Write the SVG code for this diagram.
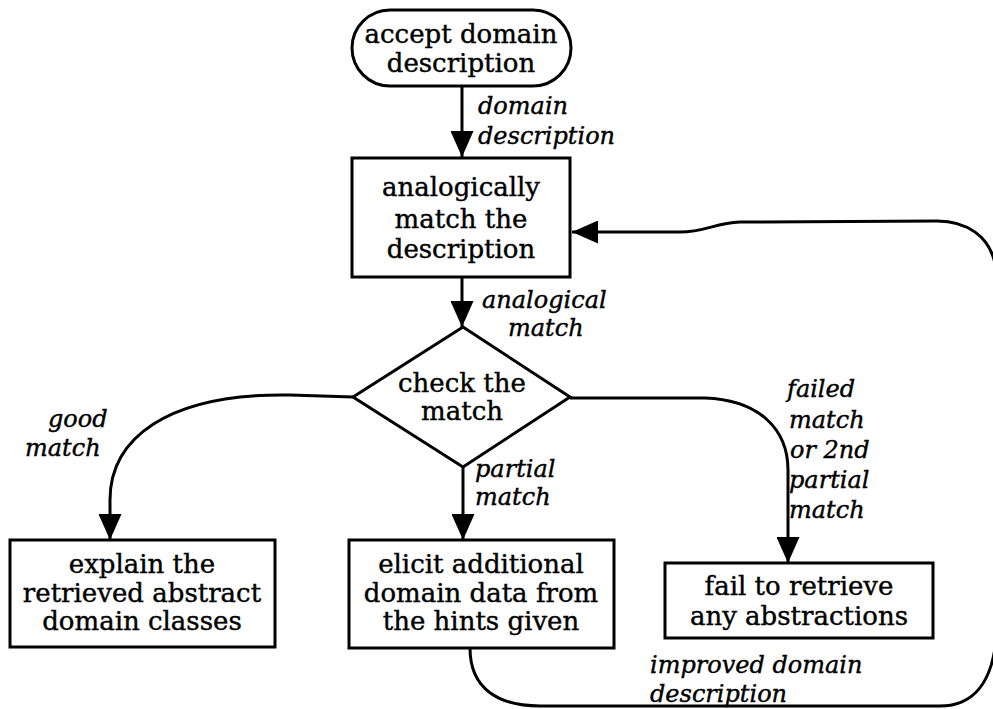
<svg xmlns="http://www.w3.org/2000/svg" width="993" height="709" viewBox="0 0 993 709">
  <defs>
    <marker id="arrow" markerUnits="userSpaceOnUse" viewBox="0 0 26 23" markerWidth="26" markerHeight="23" refX="26" refY="11.5" orient="auto">
      <path d="M0,0 L26,11.5 L0,23 z" fill="#000"/>
    </marker>
    <style>
      .shape { fill: #fff; stroke: #000; stroke-width: 3; }
      .conn { fill: none; stroke: #000; stroke-width: 3; }
      .node-text { font-family: "DejaVu Serif", "Liberation Serif", serif; font-size: 26px; fill: #000; stroke: #000; stroke-width: 0.4; text-anchor: middle; }
      .label { font-family: "DejaVu Serif", "Liberation Serif", serif; font-size: 24px; font-style: italic; fill: #000; stroke: #000; stroke-width: 0.4; }
    </style>
  </defs>
  <rect width="993" height="709" fill="#fff"/>

  <g id="connectors">
    <path class="conn" d="M462 86 L462 157" marker-end="url(#arrow)"/>
    <path class="conn" d="M462 277 L462 327" marker-end="url(#arrow)"/>
    <path class="conn" d="M353 397 L290 395 C165 393 110 440 110 500 L110 540" marker-end="url(#arrow)"/>
    <path class="conn" d="M463 467 L463 540" marker-end="url(#arrow)"/>
    <path class="conn" d="M570 398 L705 398 C760 400 788 430 788 470 L788 563" marker-end="url(#arrow)"/>
    <path class="conn" d="M470 648 C470 690 500 706 540 706 L940 706 C975 706 992 680 996 640 L996 270 C992 235 965 221 937 221 L740 222 C715 223 705 232 680 232 L572 232" marker-end="url(#arrow)"/>
  </g>

  <g id="accept">
    <rect class="shape" x="352" y="10" width="219" height="76" rx="38"/>
    <text class="node-text" x="461" y="43">accept domain</text>
    <text class="node-text" x="461" y="72">description</text>
  </g>

  <g id="analogical-match">
    <rect class="shape" x="352" y="158" width="218" height="119"/>
    <text class="node-text" x="461" y="196">analogically</text>
    <text class="node-text" x="461" y="228">match the</text>
    <text class="node-text" x="461" y="258">description</text>
  </g>

  <g id="check">
    <polygon class="shape" points="463,327 570,397 463,467 353,397"/>
    <text class="node-text" x="462" y="392">check the</text>
    <text class="node-text" x="462" y="420">match</text>
  </g>

  <g id="explain">
    <rect class="shape" x="10" y="540" width="265" height="107"/>
    <text class="node-text" x="142" y="573">explain the</text>
    <text class="node-text" x="142" y="602">retrieved abstract</text>
    <text class="node-text" x="142" y="630">domain classes</text>
  </g>

  <g id="elicit">
    <rect class="shape" x="349" y="540" width="265" height="108"/>
    <text class="node-text" x="481" y="573">elicit additional</text>
    <text class="node-text" x="481" y="602">domain data from</text>
    <text class="node-text" x="481" y="630">the hints given</text>
  </g>

  <g id="fail">
    <rect class="shape" x="665" y="563" width="268" height="75"/>
    <text class="node-text" x="799" y="595">fail to retrieve</text>
    <text class="node-text" x="799" y="625">any abstractions</text>
  </g>

  <g id="labels">
    <text class="label" x="478" y="114">domain</text>
    <text class="label" x="478" y="144">description</text>
    <text class="label" x="482" y="308">analogical</text>
    <text class="label" x="508" y="336">match</text>
    <text class="label" x="48" y="427">good</text>
    <text class="label" x="25" y="456">match</text>
    <text class="label" x="475" y="477">partial</text>
    <text class="label" x="475" y="505">match</text>
    <text class="label" x="787" y="397">failed</text>
    <text class="label" x="789" y="428">match</text>
    <text class="label" x="790" y="458">or 2nd</text>
    <text class="label" x="789" y="488">partial</text>
    <text class="label" x="789" y="518">match</text>
    <text class="label" x="650" y="673">improved domain</text>
    <text class="label" x="650" y="702">description</text>
  </g>
</svg>
